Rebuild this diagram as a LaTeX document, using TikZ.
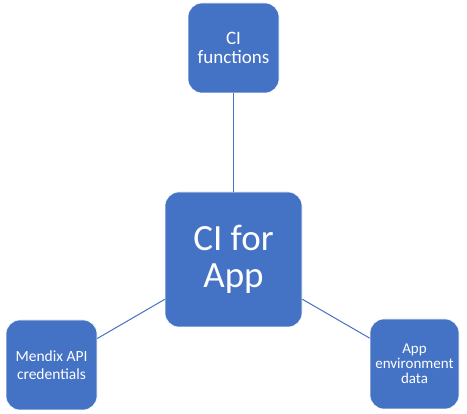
\documentclass[tikz,border=0pt]{standalone}
\usepackage{fontspec}
\setmainfont{Carlito}
\definecolor{officeblue}{HTML}{4472C4}
\begin{document}
\begin{tikzpicture}[x=1pt,y=-1pt,
  box/.style={draw=white,line width=0.6pt,fill=officeblue,rounded corners=14pt,
    text=white,align=center,inner sep=0pt},
  link/.style={draw=officeblue,line width=1pt}]
\useasboundingbox (0,0) rectangle (467,414);
\node[box,minimum width=91pt,minimum height=90pt,font=\fontsize{19}{18.5}\selectfont] (fn) at (233.5,48) {CI\\functions};
\node[box,minimum width=137pt,minimum height=135pt,font=\fontsize{37}{37}\selectfont] (ci) at (233.5,259.5) {CI for\\App};
\node[box,minimum width=91pt,minimum height=90pt,font=\fontsize{15.5}{18.5}\selectfont] (api) at (51.5,365) {Mendix API\\credentials};
\node[box,minimum width=89pt,minimum height=90pt,font=\fontsize{15}{15}\selectfont] (env) at (414.5,364) {App\\environment\\data};
\draw[link] (fn) -- (ci);
\draw[link] (api) -- (ci);
\draw[link] (env) -- (ci);
\end{tikzpicture}
\end{document}
